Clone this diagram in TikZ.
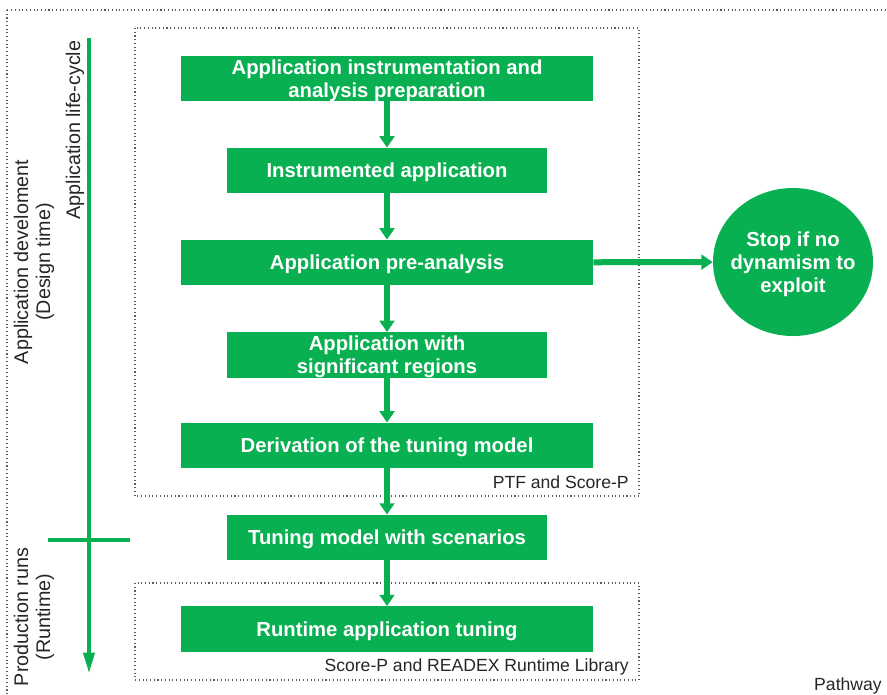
\documentclass[tikz,border=0pt]{standalone}
\usepackage{fontspec}
\setmainfont{Liberation Sans}
\usetikzlibrary{shapes.geometric,arrows.meta}

\definecolor{stepgreen}{RGB}{8,176,82}
\definecolor{framegray}{RGB}{90,90,90}

\tikzset{
  widebox/.style={fill=stepgreen, text=white, align=center, inner sep=0pt,
    font=\bfseries\fontsize{15.2}{17.2}\selectfont, text depth=-0.6pt,
    minimum width=309pt, minimum height=34pt},
  narrowbox/.style={widebox, minimum width=240pt},
  flow/.style={stepgreen, line width=4.5pt,
    -{Triangle[length=8.5pt,width=11pt]}},
  frame/.style={framegray, dotted, line width=0.8pt},
  sidelabel/.style={rotate=90, align=center, text=black!85,
    font=\fontsize{14.8}{16.5}\selectfont},
  toollabel/.style={text=black!85, inner sep=0pt, font=\fontsize{13.2}{15}\selectfont}
}

\begin{document}
\begin{tikzpicture}[x=0.75pt,y=-0.75pt]
\useasboundingbox (0,0) rectangle (887,694);

% frames
\draw[frame] (7,10) rectangle (900,710);
\draw[frame] (135,28) rectangle (639,496);
\draw[frame] (135,583) rectangle (639,680);
\node[toollabel, anchor=base east] (ptf) at (629,488) {PTF and Score-P};
\node[toollabel, anchor=base east] (rrl) at (629,671) {Score-P and READEX Runtime Library};
\node[toollabel, anchor=base east] (path) at (882,690) {Pathway};

% steps
\node[widebox] (instr) at (387,78.5) {Application instrumentation and\\analysis preparation};
\node[narrowbox] (instapp) at (387,170.5) {Instrumented application};
\node[widebox] (pre) at (387,262.5) {Application pre-analysis};
\node[narrowbox] (sig) at (387,355) {Application with\\significant regions};
\node[widebox] (deriv) at (387,445.5) {Derivation of the tuning model};
\node[narrowbox] (model) at (387,537.5) {Tuning model with scenarios};
\node[widebox] (rat) at (387,629) {Runtime application tuning};
\node[ellipse, fill=stepgreen, inner sep=0pt,
  minimum width=120pt, minimum height=111pt] (stop) at (793,262) {};
\node[text=white, align=center, text depth=-0.6pt,
  font=\bfseries\fontsize{15.2}{17}\selectfont]
  (stoptext) at (stop) {Stop if no\\dynamism to\\exploit};

\draw[flow] (instr) -- (instapp);
\draw[flow] (instapp) -- (pre);
\draw[flow] (pre) -- (sig);
\draw[flow] (sig) -- (deriv);
\draw[flow] (deriv) -- (model);
\draw[flow] (model) -- (rat);
\draw[flow] (pre) -- (stop);

% life-cycle axis
\coordinate (top) at (89,38);
\coordinate (bottom) at (89,674);
\coordinate (cutl) at (48,540);
\coordinate (cutr) at (130,540);
\draw[stepgreen, line width=3.3pt, -{Triangle[length=16pt,width=8pt]}] (top) -- (bottom);
\draw[stepgreen, line width=3.3pt] (cutl) -- (cutr);
\node[sidelabel] (cycle) at (75,130) {Application life-cycle};
\node[sidelabel] (design) at (34,262) {Application develoment\\(Design time)};
\node[sidelabel] (runtime) at (34,617) {Production runs\\(Runtime)};
\end{tikzpicture}
\end{document}
